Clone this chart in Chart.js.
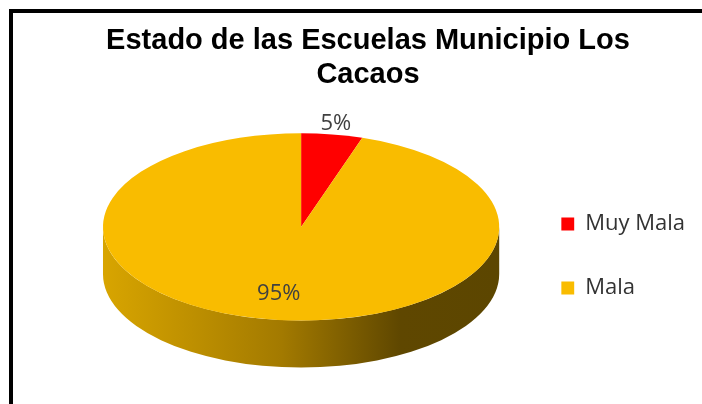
<!DOCTYPE html>
<html>
<head>
<meta charset="utf-8">
<script src="https://cdn.jsdelivr.net/npm/chart.js"></script>
<style>
  html, body { margin: 0; padding: 0; background: #fff; }
  #wrap { position: relative; width: 702px; height: 404px; overflow: hidden; }
  #grafico { display: block; }
  #marco { position: absolute; left: 9px; top: 9px; right: 0; bottom: 0;
           border-left: 4px solid #000; border-top: 4px solid #000; pointer-events: none; }
</style>
</head>
<body>
<div id="wrap">
  <canvas id="grafico" width="702" height="404"></canvas>
  <div id="marco"></div>
</div>
<script>
// datos
const titulo = ['Estado de las Escuelas Municipio Los', 'Cacaos'];
const categorias = ['Muy Mala', 'Mala'];
const valores = [5, 95];
const colores = ['#FF0000', '#F9BC00'];

// lateral del pastel (degradado horizontal)
const coloresLado = [
    [[0, '#D00000'], [0.5, '#990000'], [1, '#5A0000']],
    [[0, '#D8A500'], [0.45, '#A37A00'], [0.75, '#5F4700'], [1, '#5C4600']]
];

// inclinación del pastel 3D
const TILT = { sx: 1.29, sy: 0.61, depth: 0.306 };

Chart.defaults.font.family = '"Open Sans", sans-serif';

const pastel3d = {
    id: 'pastel3d',
    beforeDatasetsDraw(chart) {
        const arcs = chart.getDatasetMeta(0).data;
        if (!arcs.length) return;
        const ctx = chart.ctx;
        const { x, y, outerRadius } = arcs[0].getProps(['x', 'y', 'outerRadius'], true);
        const rx = outerRadius * TILT.sx;
        const ry = outerRadius * TILT.sy;
        const h = outerRadius * TILT.depth;
        const cy = y - h / 2;

        ctx.save();

        // pared frontal (solo la mitad visible 0..PI)
        arcs.forEach((arc, i) => {
            const { startAngle, endAngle } = arc.getProps(['startAngle', 'endAngle'], true);
            [0, 2 * Math.PI, -2 * Math.PI].forEach(shift => {
                const a = Math.max(startAngle, shift);
                const b = Math.min(endAngle, shift + Math.PI);
                if (b <= a) return;
                const g = ctx.createLinearGradient(x - rx, 0, x + rx, 0);
                coloresLado[i].forEach(([pos, c]) => g.addColorStop(pos, c));
                ctx.beginPath();
                ctx.ellipse(x, cy, rx, ry, 0, a - shift, b - shift);
                ctx.ellipse(x, cy + h, rx, ry, 0, b - shift, a - shift, true);
                ctx.closePath();
                ctx.fillStyle = g;
                ctx.fill();
            });
        });

        // cara superior
        arcs.forEach(arc => {
            const { startAngle, endAngle } = arc.getProps(['startAngle', 'endAngle'], true);
            ctx.beginPath();
            ctx.moveTo(x, cy);
            ctx.ellipse(x, cy, rx, ry, 0, startAngle, endAngle);
            ctx.closePath();
            ctx.fillStyle = arc.options.backgroundColor;
            ctx.fill();
        });

        // etiquetas de porcentaje
        const total = valores.reduce((s, v) => s + v, 0);
        ctx.font = '22px "Open Sans", sans-serif';
        ctx.fillStyle = '#404040';
        ctx.textAlign = 'center';
        ctx.textBaseline = 'middle';
        arcs.forEach((arc, i) => {
            const { startAngle, endAngle } = arc.getProps(['startAngle', 'endAngle'], true);
            const mid = (startAngle + endAngle) / 2;
            const share = valores[i] / total;
            const f = share < 0.1 ? 1.12 : 0.72;
            const lx = x + rx * f * Math.cos(mid);
            const ly = cy + ry * f * Math.sin(mid);
            ctx.fillText(Math.round(share * 100) + '%', lx, ly);
        });

        ctx.restore();
        return false;
    }
};

new Chart(document.getElementById('grafico'), {
    type: 'pie',
    data: {
        labels: categorias,
        datasets: [{
            data: valores,
            backgroundColor: colores,
            borderWidth: 0
        }]
    },
    plugins: [pastel3d],
    options: {
        responsive: false,
        animation: false,
        events: [],
        layout: {
            padding: { left: 41, right: 7, top: 0, bottom: 0 }
        },
        plugins: {
            tooltip: { enabled: false },
            title: {
                display: true,
                text: titulo,
                color: '#000',
                font: { family: '"Liberation Sans", Arial, sans-serif', size: 29, weight: 'bold', lineHeight: 1.17 },
                padding: { top: 24.5, bottom: 4.5 }
            },
            legend: {
                position: 'right',
                fullSize: false,
                // título vacío: solo empuja los elementos hacia abajo
                title: { display: true, text: '', padding: 0, font: { size: 10, lineHeight: 5.3 } },
                labels: {
                    boxWidth: 13,
                    boxHeight: 13,
                    padding: 0,
                    color: '#333',
                    font: { size: 22, lineHeight: 2.909 },
                    generateLabels(chart) {
                        const base = Chart.overrides.doughnut.plugins.legend.labels.generateLabels(chart);
                        return base.map(item => Object.assign(item, { text: [item.text] }));
                    }
                }
            }
        }
    }
});
</script>
</body>
</html>
